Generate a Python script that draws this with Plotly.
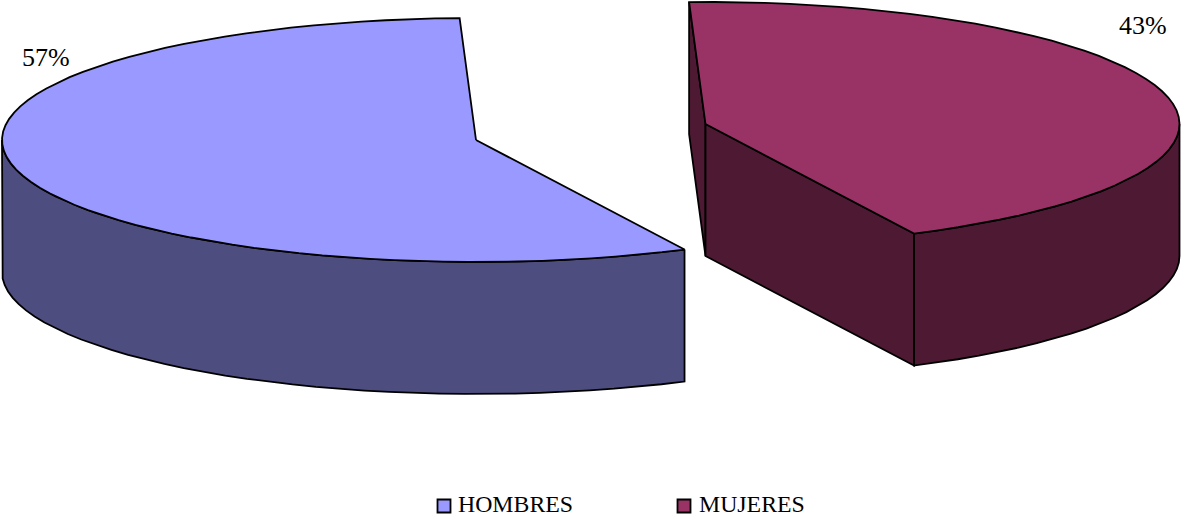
import math
import plotly.graph_objects as go

categories = ["HOMBRES", "MUJERES"]
values = [56.7, 43.3]
top_colors = ["#9999FF", "#993366"]
wall_colors = ["#4D4D80", "#4D1933"]

W, H = 1181, 518
RX, RY, DEPTH = 474, 122, 132
CENTERS = {"HOMBRES": (476, 140), "MUJERES": (705.5, 124)}
FIRST_ANGLE = 153.9      # degrees clockwise from the top of the pie
STEP = 3.0
FONT = "Liberation Serif"


def rim(cx, cy, a0, a1, dy=0):
    n = max(1, int(abs(a1 - a0) / STEP))
    pts = []
    for i in range(n + 1):
        a = math.radians(a0 + (a1 - a0) * i / n)
        pts.append((cx + RX * math.sin(a), cy - RY * math.cos(a) + dy))
    return pts


def poly(pts, color):
    xs = [p[0] for p in pts] + [pts[0][0]]
    ys = [p[1] for p in pts] + [pts[0][1]]
    return go.Scatter(x=xs, y=ys, mode="lines", fill="toself", fillcolor=color,
                      line=dict(color="black", width=1.8), hoverinfo="skip",
                      showlegend=False)


fig = go.Figure()
total = sum(values)
spans = [v / total * 360 for v in values]

# HOMBRES
a0 = FIRST_ANGLE
a1 = a0 + spans[0]
cx, cy = CENTERS["HOMBRES"]
edge = rim(cx, cy, a0, 270)
fig.add_trace(poly(edge + [(x, y + DEPTH) for x, y in reversed(edge)], wall_colors[0]))
fig.add_trace(poly([(cx, cy)] + rim(cx, cy, a0, a1), top_colors[0]))

# MUJERES
b0 = a1 - 360
b1 = b0 + spans[1]
cx, cy = CENTERS["MUJERES"]
p0 = rim(cx, cy, b0, b0)[0]
p1 = rim(cx, cy, b1, b1)[0]
fig.add_trace(poly([p0, (cx, cy), (cx, cy + DEPTH), (p0[0], p0[1] + DEPTH)], wall_colors[1]))
fig.add_trace(poly([(cx, cy), p1, (p1[0], p1[1] + DEPTH), (cx, cy + DEPTH)], wall_colors[1]))
edge = rim(cx, cy, 90, b1)
fig.add_trace(poly(edge + [(x, y + DEPTH) for x, y in reversed(edge)], wall_colors[1]))
fig.add_trace(poly([(cx, cy)] + rim(cx, cy, b0, b1), top_colors[1]))

# Legend
legend_marker_x = [444, 684]
legend_text_x = [458, 699]
legend_y = [506, 506]
for name, color, mx, tx, ly in zip(categories, top_colors, legend_marker_x, legend_text_x, legend_y):
    fig.add_trace(go.Scatter(x=[mx], y=[ly], mode="markers",
                             marker=dict(symbol="square", size=13, color=color,
                                         line=dict(color="black", width=1.8)),
                             hoverinfo="skip", showlegend=False))
    fig.add_trace(go.Scatter(x=[tx], y=[ly], mode="text", text=[name],
                             textposition="middle right",
                             textfont=dict(family=FONT, size=23.8, color="black"),
                             hoverinfo="skip", showlegend=False))

# Percent labels
label_x = [45.5, 1143]
label_y = [57, 25.5]
annotations = [
    dict(x=x, y=y, xref="x", yref="y", text=f"{round(v / total * 100)}%", showarrow=False,
         font=dict(family=FONT, size=26, color="black"))
    for x, y, v in zip(label_x, label_y, values)
]

fig.update_layout(
    width=W, height=H, margin=dict(l=0, r=0, t=0, b=0),
    paper_bgcolor="white", plot_bgcolor="white", showlegend=False,
    xaxis=dict(range=[0, W], visible=False, fixedrange=True),
    yaxis=dict(range=[H, 0], visible=False, fixedrange=True),
    annotations=annotations,
)
fig.write_html("out.html", config={"displayModeBar": False},
               post_script="document.body.style.margin='0';")
